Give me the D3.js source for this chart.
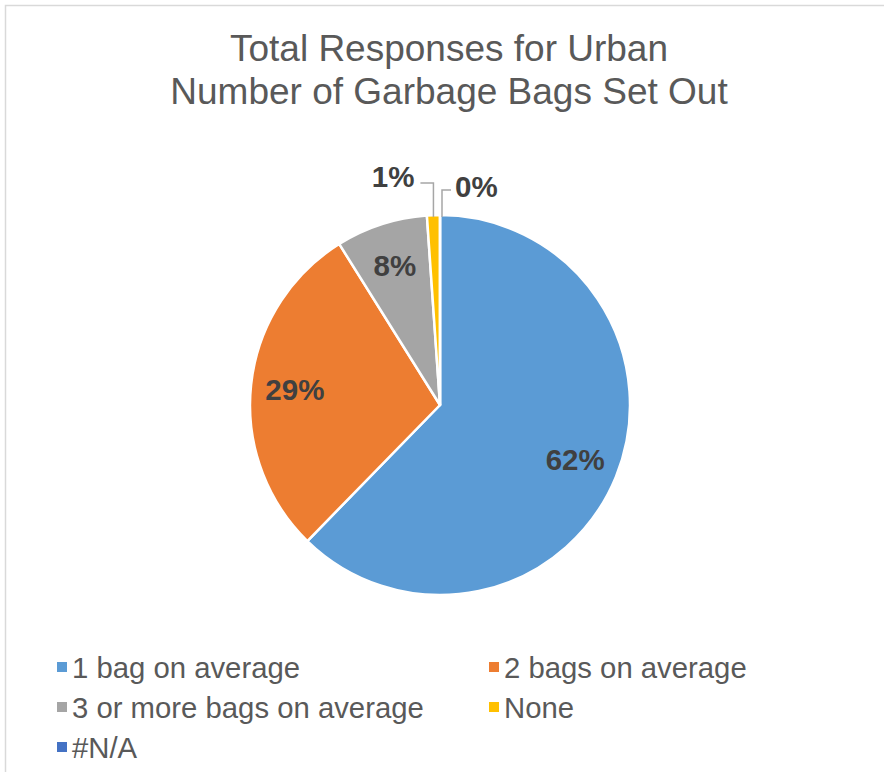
<!DOCTYPE html>
<html>
<head>
<meta charset="utf-8">
<script src="https://cdn.jsdelivr.net/npm/d3@7"></script>
<style>
  html, body { margin: 0; padding: 0; background: #fff; }
  svg { display: block; font-family: "Liberation Sans", Arial, sans-serif; }
</style>
</head>
<body>
<svg id="chart" width="884" height="772"></svg>
<script>
const titleLines = ["Total Responses for Urban", "Number of Garbage Bags Set Out"];
const categories = ["1 bag on average", "2 bags on average", "3 or more bags on average", "None", "#N/A"];
const values = [62.3, 28.8, 7.8, 1.1, 0.0];
const colors = ["#5B9BD5", "#ED7D31", "#A5A5A5", "#FFC000", "#4472C4"];

const svg = d3.select("#chart");
const W = 884, H = 772;

// chart area border
svg.append("rect")
  .attr("x", 5.5).attr("y", 5.5)
  .attr("width", W + 10).attr("height", H + 10)
  .attr("fill", "#fff").attr("stroke", "#D9D9D9").attr("stroke-width", 1.5);

// title
svg.append("g").selectAll("text").data(titleLines).join("text")
  .attr("x", 449)
  .attr("y", (d, i) => 61 + i * 43)
  .attr("text-anchor", "middle")
  .attr("font-size", 37)
  .attr("fill", "#595959")
  .text(d => d);

const cx = 440, cy = 405, R = 190;
const total = d3.sum(values);
const data = categories.map((c, i) => ({ cat: c, value: values[i], color: colors[i] }));

const pie = d3.pie().sort(null).value(d => d.value);
const arcs = pie(data);
const arc = d3.arc().innerRadius(0).outerRadius(R);
const labelArc = d3.arc().innerRadius(146).outerRadius(146);

const g = svg.append("g").attr("transform", `translate(${cx},${cy})`);

g.selectAll("path").data(arcs).join("path")
  .attr("d", arc)
  .attr("fill", d => d.data.color)
  .attr("stroke", "#fff")
  .attr("stroke-width", 2.5)
  .attr("stroke-linejoin", "round");

const fmt = d => Math.round(d.data.value / total * 100) + "%";

// inside labels for big slices
const big = arcs.filter(d => d.data.value / total >= 0.03);
g.selectAll("text.in").data(big).join("text")
  .attr("class", "in")
  .attr("x", d => labelArc.centroid(d)[0])
  .attr("y", d => labelArc.centroid(d)[1])
  .attr("dy", "0.35em")
  .attr("text-anchor", "middle")
  .attr("font-size", 29.5)
  .attr("font-weight", "bold")
  .attr("fill", "#404040")
  .text(fmt);

// outside labels with leader lines for small slices
const small = arcs.filter(d => d.data.value / total < 0.03);
small.forEach((d, k) => {
  const mid = (d.startAngle + d.endAngle) / 2;
  const sx = R * Math.sin(mid) + (k === 0 ? 0 : 2);
  const sy = -R * Math.cos(mid) + 2;
  const left = k === 0;
  const ey = -R - (left ? 32 : 25);
  const hx = sx + (left ? -13 : 9);
  g.append("path")
    .attr("d", `M${sx},${sy}V${ey}H${hx}`)
    .attr("fill", "none")
    .attr("stroke", "#A6A6A6")
    .attr("stroke-width", 1.5);
  g.append("text")
    .attr("x", hx + (left ? -6 : 4))
    .attr("y", ey + (left ? 4 : 7))
    .attr("text-anchor", left ? "end" : "start")
    .attr("font-size", 29.5)
    .attr("font-weight", "bold")
    .attr("fill", "#404040")
    .text(fmt(d));
});

// legend
const legend = svg.append("g");
const colX = [57, 489];
const rowY = 667, rowH = 40;
const items = legend.selectAll("g").data(data).join("g")
  .attr("transform", (d, i) => `translate(${colX[i % 2]},${rowY + Math.floor(i / 2) * rowH})`);
items.append("rect")
  .attr("x", 0).attr("y", -5)
  .attr("width", 10).attr("height", 10)
  .attr("fill", d => d.color);
items.append("text")
  .attr("x", 15).attr("y", 10.5)
  .attr("font-size", 29.3)
  .attr("fill", "#595959")
  .text(d => d.cat);
</script>
</body>
</html>
